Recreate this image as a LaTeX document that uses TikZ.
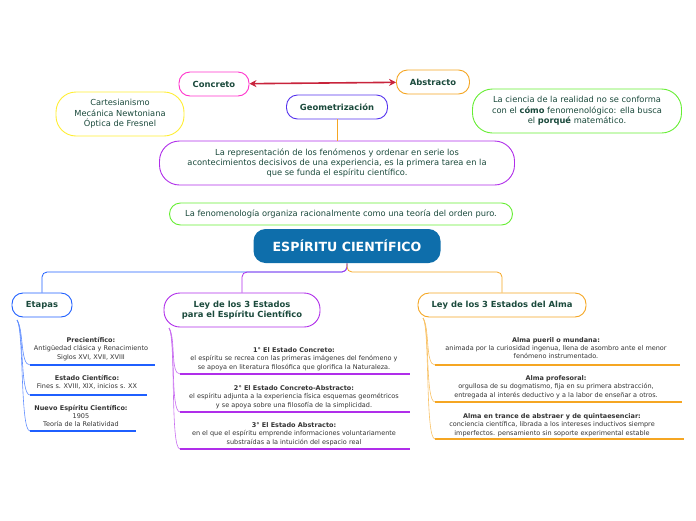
\documentclass[tikz,border=0pt]{standalone}
\usepackage{fontspec}
\setmainfont{DejaVu Sans}
\usetikzlibrary{arrows.meta}
\definecolor{tg}{HTML}{1B4A3C}
\definecolor{cb}{HTML}{1F5FFF}
\definecolor{cp}{HTML}{B02EEA}
\definecolor{co}{HTML}{F5A623}
\definecolor{cg}{HTML}{66EE33}
\definecolor{cy}{HTML}{FFEE33}
\definecolor{cm}{HTML}{FF33CC}
\definecolor{cv}{HTML}{5533EE}
\definecolor{cc}{HTML}{0E6EAB}
\definecolor{cr}{HTML}{C8243C}
\begin{document}
\begin{tikzpicture}[x=1pt,y=-1pt,
 box/.style={draw,line width=0.9pt,rounded corners=11pt,fill=white,inner sep=0pt,text=tg,align=center,font=\fontsize{8.3}{10.3}\selectfont},
 bbox/.style={box,font=\fontsize{8.4}{10.5}\selectfont\bfseries},
 item/.style={align=center,font=\fontsize{6.5}{8.2}\selectfont,text=black!80,inner sep=0pt},
 br/.style={line width=0.8pt}]
\useasboundingbox (0,0) rectangle (696,520);
\node[bbox,draw=cm,minimum width=70pt,minimum height=24pt] (conc) at (214,84) {Concreto};
\node[bbox,draw=co,minimum width=73pt,minimum height=24pt] (abs) at (433,82) {Abstracto};
\draw[cr,line width=1.6pt,{Stealth[length=7pt,width=7pt]}-{Stealth[length=7pt,width=7pt]}] (conc) -- (abs);
\node[bbox,draw=cv,minimum width=101pt,minimum height=24pt] (geo) at (337,107) {Geometrización};
\node[box,draw=cy,rounded corners=20pt,minimum width=128pt,minimum height=44pt] (cart) at (120,114) {Cartesianismo\\Mecánica Newtoniana\\Óptica de Fresnel};
\node[box,draw=cg,rounded corners=20pt,minimum width=209pt,minimum height=44pt] (cien) at (577,111) {La ciencia de la realidad no se conforma\\con el \textbf{cómo} fenomenológico: ella busca\\el \textbf{porqué} matemático.};
\node[box,draw=cp,rounded corners=20pt,minimum width=355pt,minimum height=44pt] (rep) at (337,163) {La representación de los fenómenos y ordenar en serie los\\acontecimientos decisivos de una experiencia, es la primera tarea en la\\que se funda el espíritu científico.};
\draw[co,br] (geo) -- (rep);
\node[box,draw=cg,minimum width=343pt,minimum height=22pt] (fen) at (341,214) {La fenomenología organiza racionalmente como una teoría del orden puro.};
\node[box,draw=none,fill=cc,text=white,rounded corners=12pt,minimum width=187pt,minimum height=34pt,font=\fontsize{12.6}{14}\selectfont\bfseries] (esp) at (347,246) {ESPÍRITU CIENTÍFICO};
\node[bbox,draw=cb,minimum width=60pt,minimum height=24pt] (eta) at (42,305) {Etapas};
\node[bbox,draw=cp,rounded corners=16pt,minimum width=156pt,minimum height=34pt] (ley) at (242,310) {Ley de los 3 Estados\\para el Espíritu Científico};
\node[bbox,draw=co,minimum width=168pt,minimum height=24pt] (alma) at (502,305) {Ley de los 3 Estados del Alma};
\draw[cb,br,rounded corners=5pt] (esp.south) -- (347,272) -- (42,272) -- (eta.north);
\draw[cp,br,rounded corners=5pt] (esp.south) -- (347,272) -- (242,272) -- (ley.north);
\draw[co,br,rounded corners=5pt] (esp.south) -- (347,272) -- (502,272) -- (alma.north);
% Etapas items
\node[item] (e1) at (91,349) {\textbf{Precientífico:}\\Antigüedad clásica y Renacimiento\\Siglos XVI, XVII, XVIII};
\node[item] (e2) at (87,382) {\textbf{Estado Científico:}\\Fines s. XVIII, XIX, inicios s. XX};
\node[item] (e3) at (81,416) {\textbf{Nuevo Espíritu Científico:}\\1905\\Teoría de la Relatividad};
\coordinate (es) at (17,320);
\coordinate (e1a) at (30,365); \coordinate (e1b) at (155,365);
\coordinate (e2a) at (30,395); \coordinate (e2b) at (147,395);
\coordinate (e3a) at (30,431); \coordinate (e3b) at (136,431);
\foreach \p/\q in {e1a/e1b,e2a/e2b,e3a/e3b}{
 \draw[cb!70,line width=0.6pt] (es) .. controls (24,330) and ([xshift=-10pt]\p) .. (\p);
 \draw[cb,line width=1.2pt] (\p) -- (\q);}
% Ley items
\node[item] (l1) at (294,359) {\textbf{1° El Estado Concreto:}\\el espíritu se recrea con las primeras imágenes del fenómeno y\\se apoya en literatura filosófica que glorifica la Naturaleza.};
\node[item] (l2) at (294,397) {\textbf{2° El Estado Concreto-Abstracto:}\\el espíritu adjunta a la experiencia física esquemas geométricos\\y se apoya sobre una filosofía de la simplicidad.};
\node[item] (l3) at (294,434) {\textbf{3° El Estado Abstracto:}\\en el que el espíritu emprende informaciones voluntariamente\\substraídas a la intuición del espacio real};
\coordinate (ls) at (169,328);
\coordinate (l1a) at (180,374); \coordinate (l1b) at (410,374);
\coordinate (l2a) at (180,412); \coordinate (l2b) at (410,412);
\coordinate (l3a) at (180,449); \coordinate (l3b) at (410,449);
\foreach \p/\q in {l1a/l1b,l2a/l2b,l3a/l3b}{
 \draw[cp!70,line width=0.6pt] (ls) .. controls (176,338) and ([xshift=-10pt]\p) .. (\p);
 \draw[cp,line width=1.2pt] (\p) -- (\q);}
% Alma items
\node[item] (a1) at (556,348) {\textbf{Alma pueril o mundana:}\\animada por la curiosidad ingenua, llena de asombro ante el menor\\fenómeno instrumentado.};
\node[item] (a2) at (556,387) {\textbf{Alma profesoral:}\\orgullosa de su dogmatismo, fija en su primera abstracción,\\entregada al interés deductivo y a la labor de enseñar a otros.};
\node[item] (a3) at (552,425) {\textbf{Alma en trance de abstraer y de quintaesenciar:}\\conciencia científica, librada a los intereses inductivos siempre\\imperfectos. pensamiento sin soporte experimental estable};
\coordinate (as) at (423,318);
\coordinate (a1a) at (435,365); \coordinate (a1b) at (680,365);
\coordinate (a2a) at (435,402); \coordinate (a2b) at (682,402);
\coordinate (a3a) at (435,439); \coordinate (a3b) at (684,439);
\foreach \p/\q in {a1a/a1b,a2a/a2b,a3a/a3b}{
 \draw[co!70,line width=0.6pt] (as) .. controls (430,328) and ([xshift=-10pt]\p) .. (\p);
 \draw[co,line width=1.2pt] (\p) -- (\q);}
\end{tikzpicture}
\end{document}
